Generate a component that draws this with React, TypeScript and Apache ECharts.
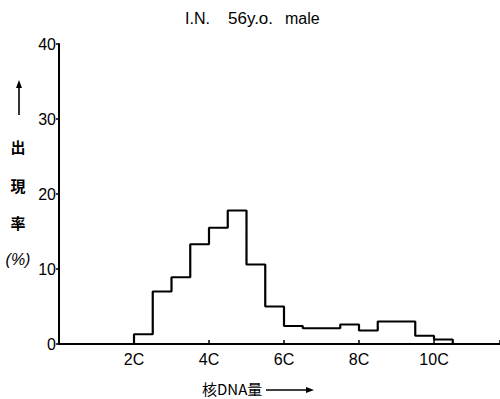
import { useEffect, useRef } from "react";
import * as echarts from "echarts";

// Histogram bin edges (in units of C) and frequency (%) per bin
const binEdges = [2, 2.5, 3, 3.5, 4, 4.5, 5, 5.5, 6, 6.5, 7, 7.5, 8, 8.5, 9, 9.5, 10, 10.5];
const binValues = [1.3, 7.0, 8.9, 13.3, 15.5, 17.8, 10.6, 5.0, 2.4, 2.1, 2.1, 2.6, 1.8, 3.0, 3.0, 1.1, 0.6];

const xTickValues = [2, 4, 6, 8, 10];
const xTickLabels = ["2C", "4C", "6C", "8C", "10C"];
const yTickValues = [0, 10, 20, 30, 40];

const titleParts = ["I.N.", "56y.o.", "male"];
const yNameChars = ["出", "現", "率", "(%)"];
const xName = "核DNA量";

const FONT = "Liberation Sans";
const CJK = "Noto Sans CJK JP";

export default function App() {
  const ref = useRef<HTMLDivElement>(null);

  useEffect(() => {
    document.body.style.margin = "0";
    if (!ref.current) return;
    const chart = echarts.init(ref.current, null, { renderer: "svg" });

    const stepData: [number, number][] = [[binEdges[0], 0]];
    for (let i = 0; i < binValues.length; i++) {
      stepData.push([binEdges[i + 1], binValues[i]]);
    }
    stepData.push([binEdges[binEdges.length - 1], 0]);

    const option: any = {
      animation: false,
      backgroundColor: "#fff",
      grid: {
        left: 59,
        right: 0,
        top: 44,
        bottom: 55,
        containLabel: false,
        outerBoundsMode: "none",
      },
      xAxis: {
        type: "value",
        min: 0,
        max: 11.76,
        interval: 2,
        splitLine: { show: false },
        axisLine: { show: true, lineStyle: { color: "#000", width: 2 } },
        axisTick: { show: true, inside: true, length: 4, lineStyle: { color: "#000", width: 1.5 } },
        axisLabel: {
          show: true,
          margin: 7,
          color: "#000",
          fontFamily: FONT,
          fontSize: 16,
          formatter: (v: number) => {
            const idx = xTickValues.indexOf(v);
            return idx >= 0 ? xTickLabels[idx] : "";
          },
        },
      },
      yAxis: {
        type: "value",
        min: 0,
        max: 40,
        interval: 10,
        splitLine: { show: false },
        axisLine: { show: true, lineStyle: { color: "#000", width: 2 } },
        axisTick: { show: true, inside: false, length: 3, lineStyle: { color: "#000", width: 1.5 } },
        axisLabel: {
          show: true,
          margin: 3,
          color: "#000",
          fontFamily: FONT,
          fontSize: 16,
          formatter: (v: number) => (yTickValues.indexOf(v) >= 0 ? String(v) : ""),
        },
      },
      series: [
        {
          type: "line",
          step: "start",
          symbol: "none",
          data: stepData,
          lineStyle: { color: "#000", width: 2.2 },
          z: 3,
        },
      ],
      graphic: [
        // title
        { type: "text", left: 185, top: 10, style: { text: titleParts[0], font: `16px "${FONT}"`, fill: "#000" } },
        { type: "text", left: 228, top: 10, style: { text: titleParts[1], font: `17px "${FONT}"`, fill: "#000" } },
        { type: "text", left: 285, top: 10, style: { text: titleParts[2], font: `16px "${FONT}"`, fill: "#000" } },
        // y name arrow
        { type: "line", shape: { x1: 19, y1: 115, x2: 19, y2: 86 }, style: { stroke: "#000", lineWidth: 1.6 } },
        { type: "polygon", shape: { points: [[19, 80], [16, 88], [22, 88]] }, style: { fill: "#000" } },
        // y name characters
        { type: "text", x: 18, y: 146, style: { text: yNameChars[0], font: `bold 15px "${CJK}"`, fill: "#000", align: "center", verticalAlign: "middle" } },
        { type: "text", x: 18, y: 185, style: { text: yNameChars[1], font: `bold 15px "${CJK}"`, fill: "#000", align: "center", verticalAlign: "middle" } },
        { type: "text", x: 18, y: 222, style: { text: yNameChars[2], font: `bold 15px "${CJK}"`, fill: "#000", align: "center", verticalAlign: "middle" } },
        { type: "text", x: 18, y: 259, style: { text: yNameChars[3], font: `italic 16px "${FONT}"`, fill: "#000", align: "center", verticalAlign: "middle" } },
        // x name
        { type: "text", x: 202, y: 388, style: { text: xName, font: `15px "${CJK}"`, fill: "#000", align: "left", verticalAlign: "middle" } },
        { type: "line", shape: { x1: 266, y1: 390, x2: 308, y2: 390 }, style: { stroke: "#000", lineWidth: 1.6 } },
        { type: "polygon", shape: { points: [[314, 390], [306, 387], [306, 393]] }, style: { fill: "#000" } },
      ],
    };

    chart.setOption(option);
    return () => chart.dispose();
  }, []);

  return <div ref={ref} style={{ width: 500, height: 399 }} />;
}
